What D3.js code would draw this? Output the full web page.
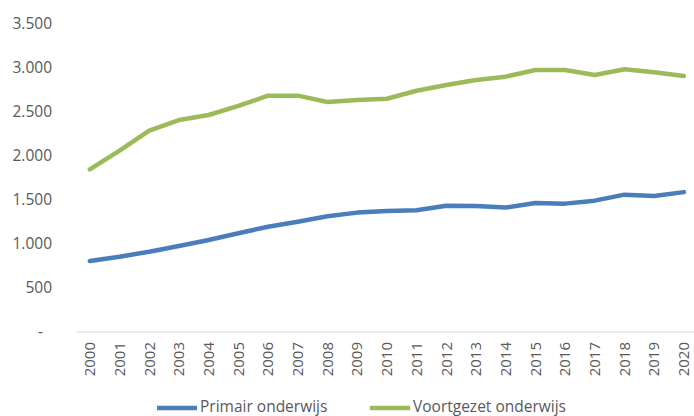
<!DOCTYPE html>
<html>
<head>
<meta charset="utf-8">
<script src="https://cdn.jsdelivr.net/npm/d3@7"></script>
<style>
  body { margin: 0; background: #fff; }
  svg { display: block; font-family: "Open Sans", sans-serif; }
</style>
</head>
<body>
<div id="chart"></div>
<script>
// data
const years = ["2000","2001","2002","2003","2004","2005","2006","2007","2008","2009","2010",
               "2011","2012","2013","2014","2015","2016","2017","2018","2019","2020"];
const primair = [801, 850, 907, 972, 1040, 1116, 1191, 1248, 1310, 1351, 1370,
                 1377, 1430, 1426, 1408, 1460, 1453, 1487, 1555, 1539, 1584];
const voortgezet = [1843, 2055, 2282, 2403, 2460, 2563, 2680, 2680, 2608, 2631, 2645,
                    2736, 2801, 2858, 2896, 2972, 2972, 2915, 2980, 2946, 2903];
const yTicks = [0, 500, 1000, 1500, 2000, 2500, 3000, 3500];
const seriesNames = ["Primair onderwijs", "Voortgezet onderwijs"];
const seriesColors = ["#4a7ebb", "#9bbb59"];

const W = 694, H = 416;
const margin = {top: 23.5, left: 75, bottom: 84.5};
const plotH = H - margin.top - margin.bottom;

const svg = d3.select("#chart").append("svg")
    .attr("width", W)
    .attr("height", H);

const g = svg.append("g")
    .attr("transform", `translate(${margin.left},${margin.top})`);

const x = d3.scaleBand()
    .domain(years)
    .range([0, 29.7 * years.length]);

const y = d3.scaleLinear()
    .domain([0, 3500])
    .range([plotH, 0]);

const nl = d3.formatLocale({decimal: ",", thousands: ".", grouping: [3], currency: ["€", ""]});
const fmt = nl.format(",.0f");

// y axis, labels only
const yAxis = g.append("g")
    .call(d3.axisLeft(y).tickValues(yTicks).tickSize(0).tickPadding(23)
      .tickFormat(d => d === 0 ? "-" : fmt(d)));
yAxis.select(".domain").remove();
yAxis.selectAll("text")
    .attr("font-family", "Open Sans")
    .attr("font-size", 15.5)
    .attr("fill", "#595959")
    .attr("dx", d => d === 0 ? -9 : 0);

// x axis
const xAxis = g.append("g")
    .attr("transform", `translate(0,${plotH})`)
    .call(d3.axisBottom(x).tickSize(0).tickPadding(10));
xAxis.select(".domain")
    .attr("stroke", "#d9d9d9")
    .attr("stroke-width", 1.2);
xAxis.selectAll("text")
    .attr("font-family", "Open Sans")
    .attr("font-size", 15)
    .attr("fill", "#595959")
    .attr("transform", "rotate(-90)")
    .attr("text-anchor", "end")
    .attr("x", -10.5)
    .attr("y", 0)
    .attr("dy", "0.35em");

const line = d3.line()
    .x((d, i) => x(years[i]) + x.bandwidth() / 2)
    .y(d => y(d));

[primair, voortgezet].forEach((vals, i) => {
  g.append("path")
      .datum(vals)
      .attr("fill", "none")
      .attr("stroke", seriesColors[i])
      .attr("stroke-width", 4.5)
      .attr("stroke-linejoin", "round")
      .attr("stroke-linecap", "round")
      .attr("d", line);
});

// legend
const legendX = [157, 370];
seriesNames.forEach((name, i) => {
  const lg = svg.append("g").attr("transform", `translate(${legendX[i]},408)`);
  lg.append("line")
      .attr("x1", 0).attr("x2", 40)
      .attr("stroke", seriesColors[i])
      .attr("stroke-width", 4.5);
  lg.append("text")
      .attr("x", 43)
      .attr("y", 4)
      .attr("font-size", 15.5)
      .attr("fill", "#595959")
      .text(name);
});
</script>
</body>
</html>
